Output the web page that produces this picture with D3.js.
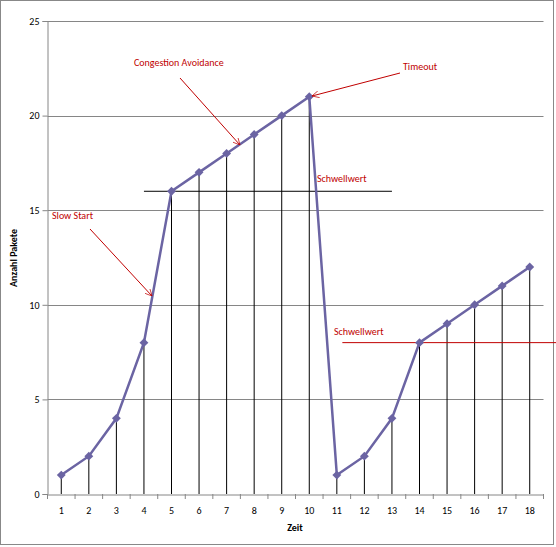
<!DOCTYPE html>
<html><head><meta charset="utf-8">
<script src="https://cdn.jsdelivr.net/npm/d3@7"></script>
<style>body{margin:0;background:#fff}svg{display:block}text{font-family:Calibri,Carlito,"Liberation Sans",Arial,sans-serif}</style>
</head><body>
<svg id="c" width="556" height="547"></svg>
<script>
const categories = [1,2,3,4,5,6,7,8,9,10,11,12,13,14,15,16,17,18];
const values = [1,2,4,8,16,17,18,19,20,21,1,2,4,8,9,10,11,12];
const yTicks = [0,5,10,15,20,25];
const thresholds = [{value:16, from:4, to:13.0, color:"#000"},{value:8, from:11.2, to:19, color:"#c00000"}];

const svg = d3.select("#c");
svg.append("rect").attr("x",0.5).attr("y",0.5).attr("width",553).attr("height",544).attr("fill","#fff").attr("stroke","#888");
const L=47.5, R=543.5, T=21, B=494;
const x = d3.scaleBand().domain(categories).range([L,R]);
const y = d3.scaleLinear().domain([0,25]).range([B,T]);
const cx = d => x(d)+x.bandwidth()/2;
const xc = d3.scaleLinear().domain([1,18]).range([cx(1),cx(18)]);

svg.append("g").selectAll("line").data(yTicks.slice(1)).join("line")
 .attr("x1",L).attr("x2",R).attr("y1",d=>Math.round(y(d))+.5).attr("y2",d=>Math.round(y(d))+.5).attr("stroke","#868686");
const ya = svg.append("g").attr("transform",`translate(${L},0)`).call(d3.axisLeft(y).tickValues(yTicks).tickSize(5));
const xa = svg.append("g").attr("transform",`translate(0,${B+0.5})`).call(d3.axisBottom(x).tickSize(0).tickPadding(12));
[ya,xa].forEach(a=>{a.select(".domain").attr("stroke","#868686");a.selectAll("line").attr("stroke","#868686");a.selectAll("text").attr("font-size",10).attr("fill","#000");});
svg.append("g").selectAll("line").data(categories.concat([19])).join("line")
 .attr("x1",d=>L+(d-1)*x.bandwidth()).attr("x2",d=>L+(d-1)*x.bandwidth()).attr("y1",B).attr("y2",B+5).attr("stroke","#868686");

svg.append("g").selectAll("line").data(values).join("line")
 .attr("x1",(d,i)=>cx(categories[i])).attr("x2",(d,i)=>cx(categories[i])).attr("y1",d=>y(d)).attr("y2",B).attr("stroke","#000");

thresholds.forEach(t=>svg.append("line").attr("x1",xc(t.from)).attr("x2",xc(t.to)).attr("y1",y(t.value)).attr("y2",y(t.value)).attr("stroke",t.color));

svg.append("path").datum(values).attr("fill","none").attr("stroke","#6b64a3").attr("stroke-width",2.5)
 .attr("d",d3.line().x((d,i)=>cx(categories[i])).y(d=>y(d)));
svg.append("g").selectAll("path").data(values).join("path")
 .attr("transform",(d,i)=>`translate(${cx(categories[i])},${y(d)})`)
 .attr("d",d3.symbol(d3.symbolDiamond2,50)).attr("fill","#6b64a3");

svg.append("text").attr("x",295).attr("y",531).attr("text-anchor","middle").attr("font-size",10).attr("font-weight","bold").text("Zeit");
svg.append("text").attr("transform","translate(17,258) rotate(-90)").attr("text-anchor","middle").attr("font-size",10).attr("font-weight","bold").text("Anzahl Pakete");

const red="#c00000";
svg.append("defs").append("marker").attr("id","ah").attr("viewBox","0 0 10 10").attr("refX",10).attr("refY",5)
 .attr("markerWidth",7).attr("markerHeight",7).attr("orient","auto").append("path").attr("d","M0,0L10,5L0,10").attr("fill","none").attr("stroke",red);
const notes=[
 {t:"Congestion Avoidance",tx:134,ty:66,x1:180,y1:78,x2:240,y2:145},
 {t:"Timeout",tx:403,ty:70,x1:400,y1:73,x2:312,y2:96},
 {t:"Slow Start",tx:52,ty:219,x1:90,y1:229,x2:152,y2:296}];
notes.forEach(n=>{
 svg.append("text").attr("x",n.tx).attr("y",n.ty).attr("font-size",10).attr("fill",red).text(n.t);
 svg.append("line").attr("x1",n.x1).attr("y1",n.y1).attr("x2",n.x2).attr("y2",n.y2).attr("stroke",red).attr("marker-end","url(#ah)");
});
svg.append("text").attr("x",317).attr("y",182).attr("font-size",10).attr("fill",red).text("Schwellwert");
svg.append("text").attr("x",334).attr("y",335).attr("font-size",10).attr("fill",red).text("Schwellwert");
</script></body></html>
